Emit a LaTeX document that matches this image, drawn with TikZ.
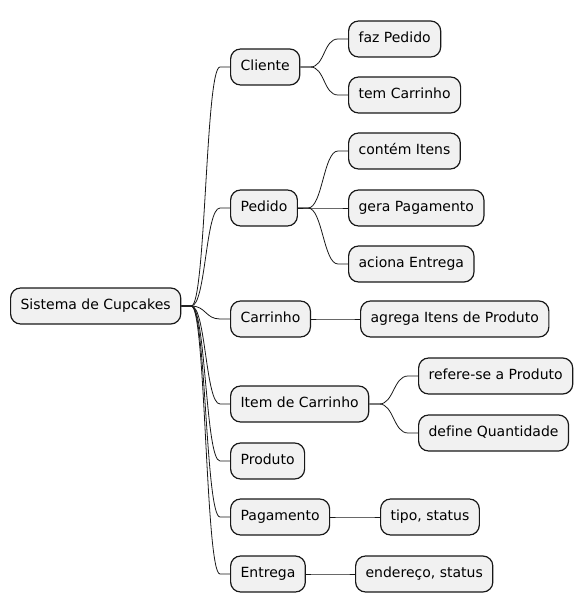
\documentclass[tikz,border=0pt]{standalone}
\usepackage{fontspec}
\setmainfont{DejaVu Sans}[Ligatures=NoCommon]
\definecolor{boxfill}{HTML}{F1F1F1}
\definecolor{boxline}{HTML}{181818}
\newcommand{\branch}[2]{\draw [edge] (#1.east) -- ++(10,0) .. controls +(14.5,0) and +(-14.5,0) .. ([xshift=-10]#2.west) -- (#2.west);}

\begin{document}
\begin{tikzpicture}[x=1pt,y=-1pt]
        \tikzset{topic/.style={draw=boxline,fill=boxfill,line width=1.2pt,rounded corners=10pt,
            anchor=west,inner xsep=10pt,inner ysep=0pt,minimum height=36pt,
            text height=10.5pt,text depth=3pt,font=\fontsize{14}{16}\selectfont,text=black},
            edge/.style={draw=boxline,line width=0.8pt}}
        \useasboundingbox (0,0) rectangle (585,612);
        \node (root) at (10,306) [topic] {Sistema de Cupcakes};
        \node (cliente) at (230,67) [topic] {Cliente};
        \node (pedido) at (230,208) [topic] {Pedido};
        \node (carrinho) at (230,319) [topic] {Carrinho};
        \node (item) at (230,404) [topic] {Item de Carrinho};
        \node (produto) at (230,461) [topic] {Produto};
        \node (pagamento) at (230,517) [topic] {Pagamento};
        \node (entrega) at (230,574) [topic] {Entrega};
        \node (fazPedido) at (348,39) [topic] {faz Pedido};
        \node (temCarrinho) at (348,95) [topic] {tem Carrinho};
        \node (contemItens) at (348,151) [topic] {contém Itens};
        \node (geraPagamento) at (348,208) [topic] {gera Pagamento};
        \node (acionaEntrega) at (348,264) [topic] {aciona Entrega};
        \node (agregaItens) at (360,319) [topic] {agrega Itens de Produto};
        \node (refereProduto) at (418,376) [topic] {refere-se a Produto};
        \node (defineQtd) at (418,433) [topic] {define Quantidade};
        \node (tipoStatus) at (380,517) [topic] {tipo, status};
        \node (enderecoStatus) at (355,574) [topic] {endereço, status};
        \foreach \a/\b in {root/cliente,root/pedido,root/carrinho,root/item,root/produto,
            root/pagamento,root/entrega,cliente/fazPedido,cliente/temCarrinho,
            pedido/contemItens,pedido/geraPagamento,pedido/acionaEntrega,
            carrinho/agregaItens,item/refereProduto,item/defineQtd,
            pagamento/tipoStatus,entrega/enderecoStatus}
            {\branch{\a}{\b}}
\end{tikzpicture}
\end{document}
